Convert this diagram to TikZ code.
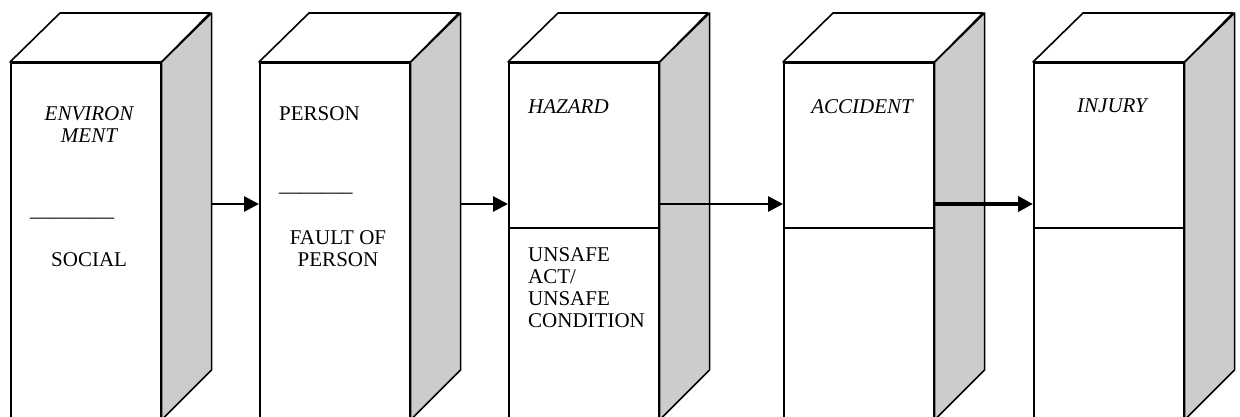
\documentclass[tikz,border=0pt]{standalone}
\usepackage{fontspec}
\setmainfont{Liberation Serif}
\usetikzlibrary{arrows.meta}
\definecolor{sidegray}{RGB}{204,204,204}

\begin{document}
\begin{tikzpicture}[x=1pt,y=-1pt,
  front/.style={draw, line width=1.6pt, fill=white, rectangle,
    minimum width=150pt, minimum height=358pt, anchor=north west, inner sep=0pt},
  shell/.style={draw, line width=1.6pt, line join=round},
  divider/.style={line width=1.3pt},
  lbl/.style={font=\fontsize{21}{22}\selectfont, inner sep=0pt, align=center},
  itlbl/.style={lbl, font=\fontsize{21}{22}\selectfont\itshape},
  flow/.style={-{Triangle[length=15pt,width=15pt]}, line width=2.8pt},
  boldflow/.style={-{Triangle[length=15pt,width=15pt]}, line width=4pt},
]
\useasboundingbox (0,0) rectangle (1240,417);
\clip (0,0) rectangle (1240,417);

% one prism: front face node plus top and shaded side faces
\foreach \n/\L in {b1/10, b2/259, b3/508, b4/783, b5/1033}{
  \node[front] (\n) at (\L,62) {};
  \draw[shell, fill=white] (\n.north west) -- ++(50,-49) -- ++(150,0)
    -- (\n.north east) -- cycle;
  \draw[shell, fill=sidegray] (\n.north east) -- ++(50,-49) -- ++(0,357)
    -- ++(-50,50) -- cycle;
  \coordinate (\n s) at ([xshift=50pt]\n.east |- 0,204);
  \coordinate (\n f) at (\n.east |- 0,204);
  \coordinate (\n w) at (\n.west |- 0,204);
}

% dividers of the last three prisms
\foreach \n in {b3,b4,b5}{
  \draw[divider] (\n.west |- 0,228) -- (\n.east |- 0,228);
}

% labels
\node[itlbl, anchor=north] (envt) at (89,106) {ENVIRON\\MENT};
\node[lbl, anchor=base west] (envr) at (30,216) {\_\_\_\_\_\_\_\_};
\node[lbl, anchor=north west] (soc) at (51,252) {SOCIAL};

\node[lbl, anchor=north west] (pers) at (279,106) {PERSON};
\node[lbl, anchor=base west] (persr) at (279,191) {\_\_\_\_\_\_\_};
\node[lbl, anchor=north] (fault) at (338,230) {FAULT OF\\PERSON};

\node[itlbl, anchor=north west] (haz) at (528,99) {HAZARD};
\node[lbl, anchor=north west, align=left] (unsafe) at (528,247) {UNSAFE\\ACT/\\UNSAFE\\CONDITION};

\node[itlbl, anchor=north] (acc) at (862,99) {ACCIDENT};
\node[itlbl, anchor=north] (inj) at (1112,99) {INJURY};

% connectors
\draw[flow] (b1s) -- (b2w);
\draw[flow] (b2s) -- (b3w);
\draw[flow] (b3f) -- (b4w);
\draw[boldflow] (b4f) -- (b5w);
\end{tikzpicture}
\end{document}
